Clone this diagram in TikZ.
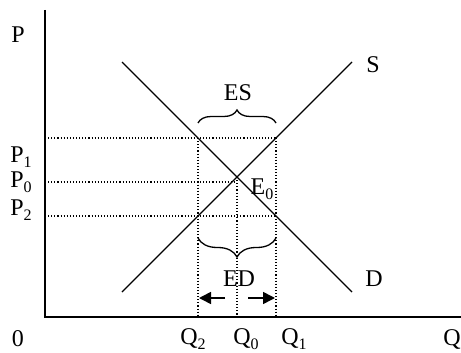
\documentclass[tikz,border=0pt]{standalone}
\usepackage{fontspec}
\setmainfont{Liberation Serif}
\usetikzlibrary{decorations.pathreplacing,arrows.meta}

\newcommand{\lowidx}[1]{\raisebox{-0.5ex}{\fontsize{16}{16}\selectfont #1}}

\begin{document}
\begin{tikzpicture}[x=1pt,y=-1pt,
        font=\fontsize{24}{28}\selectfont,
        axisline/.style={line width=2pt},
        curveline/.style={line width=1.3pt},
        guide/.style={dotted, line width=1.1pt},
        bracefig/.style={line width=1.3pt, decorate},
        shiftarrow/.style={line width=1.6pt, -{Triangle[length=12pt,width=12pt]}}]
        \useasboundingbox (0,0) rectangle (461,353);

        % Define nodes
        \coordinate (O) at (45,317);
        \coordinate (ytop) at (45,10);
        \coordinate (xend) at (461,317);
        \coordinate (S0) at (122,292);
        \coordinate (S1) at (352,62);
        \coordinate (D0) at (122,62);
        \coordinate (D1) at (352,292);
        \coordinate (E0) at (237,177);
        \coordinate (p1ax) at (45,138);
        \coordinate (p0ax) at (45,182);
        \coordinate (p2ax) at (45,216);
        \coordinate (q2top) at (198,138);
        \coordinate (q1top) at (276,138);
        \coordinate (e0lvl) at (237,182);
        \coordinate (q2ax) at (198,317);
        \coordinate (q0ax) at (237,317);
        \coordinate (q1ax) at (276,317);

        \node (P) at (18,35) {P};
        \node (P1) at (21,157) {P\lowidx{1}};
        \node (P0) at (21,182) {P\lowidx{0}};
        \node (P2) at (21,210) {P\lowidx{2}};
        \node (zero) at (18,339) {0};
        \node (Q2) at (193,339) {Q\lowidx{2}};
        \node (Q0) at (246,339) {Q\lowidx{0}};
        \node (Q1) at (294,339) {Q\lowidx{1}};
        \node (Q) at (452,339) {Q};
        \node (S) at (373,65) {S};
        \node (D) at (374,279) {D};
        \node (E0lbl) at (262,189) {E\lowidx{0}};
        \node (ES) at (238,93) {ES};
        \node (ED) at (239,279) {ED};

        % Axes
        \draw[axisline] (ytop) -- (O) -- (xend);

        % Supply and demand
        \draw[curveline] (S0) -- (S1);
        \draw[curveline] (D0) -- (D1);

        % Price and quantity guides
        \draw[guide] (p1ax) -- (q1top);
        \draw[guide] (p0ax) -- (e0lvl);
        \draw[guide] (p2ax) -- (276,216);
        \draw[guide] (q2top) -- (q2ax);
        \draw[guide] (q1top) -- (q1ax);
        \draw[guide] (E0) -- (q0ax);

        % Excess supply and demand
        \draw[bracefig, decoration={brace, amplitude=13pt}] (198,123) -- (276,123);
        \draw[bracefig, decoration={brace, amplitude=19pt}] (276,238) -- (198,238);

        % Shortage arrows
        \draw[shiftarrow] (225,298) -- (199,298);
        \draw[shiftarrow] (248,298) -- (275,298);
\end{tikzpicture}
\end{document}
